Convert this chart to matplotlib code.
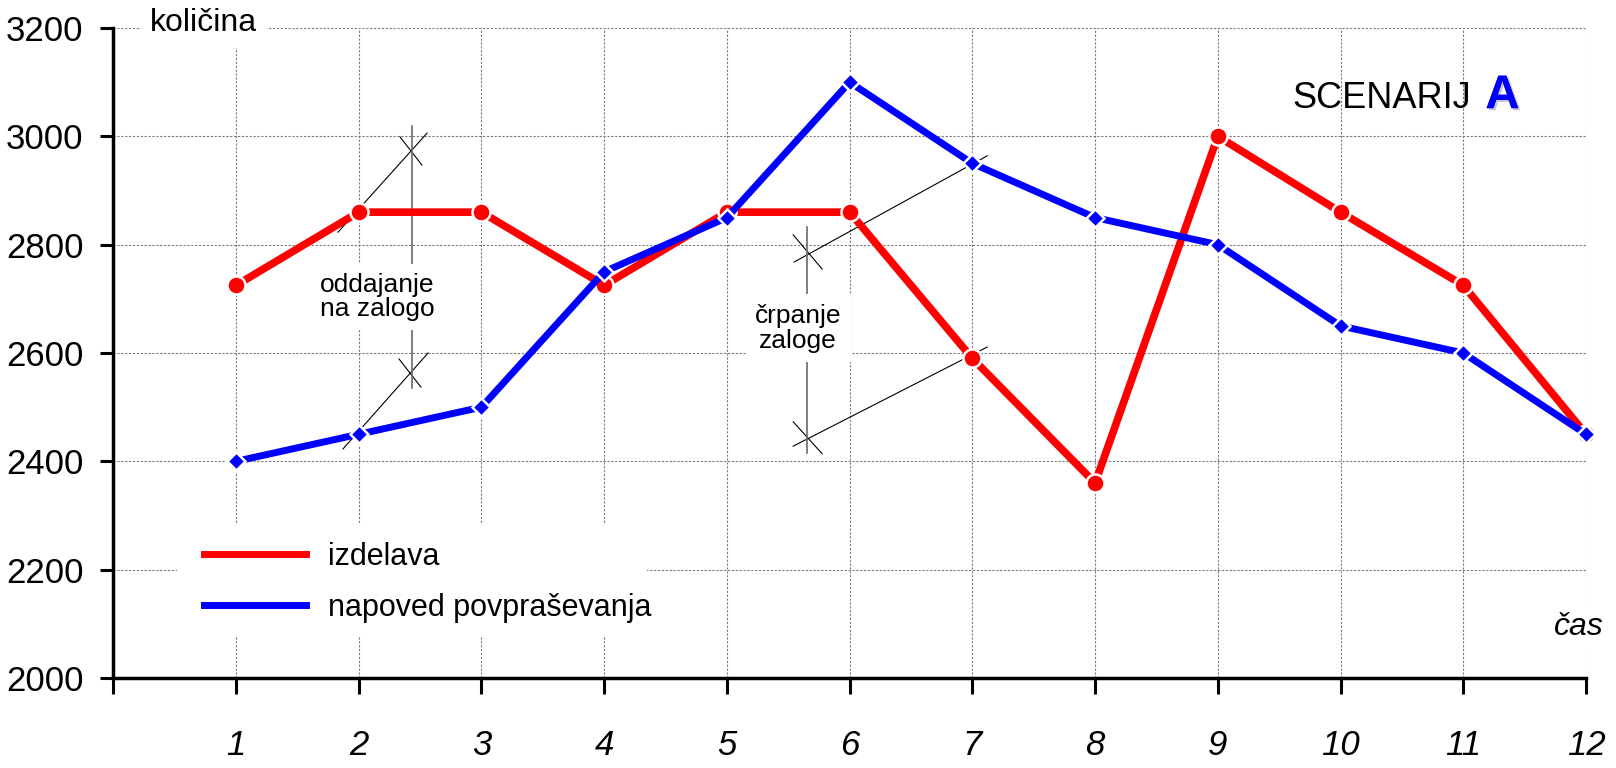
import matplotlib
matplotlib.use("Agg")
import matplotlib.pyplot as plt
from matplotlib import font_manager
from matplotlib.lines import Line2D
from matplotlib.patches import Rectangle
import matplotlib.patheffects as pe

# podatki
cas = [1, 2, 3, 4, 5, 6, 7, 8, 9, 10, 11, 12]
izdelava = [2725, 2860, 2860, 2725, 2860, 2860, 2590, 2360, 3000, 2860, 2725, 2450]
napoved = [2400, 2450, 2500, 2750, 2850, 3100, 2950, 2850, 2800, 2650, 2600, 2450]
y_ticks = [2000, 2200, 2400, 2600, 2800, 3000, 3200]
x_ticks = list(range(0, 13))
x_labels = [""] + [str(i) for i in cas]

# kotirne crte (oddajanje / crpanje zaloge)
kote = [
    # podaljski
    ((1.831, 2.557), (2823, 3006)),
    ((1.872, 2.565), (2423, 2600)),
    ((5.548, 7.121), (2768, 2964)),
    ((5.540, 7.121), (2428, 2611)),
    # krizci
    ((2.336, 2.515), (2999, 2947)),
    ((2.328, 2.507), (2589, 2537)),
    ((5.540, 5.776), (2818, 2755)),
    ((5.540, 5.776), (2473, 2414)),
]
kote_navpicne = [((2.43, 2.43), (3020, 2535)), ((5.654, 5.654), (2833, 2415))]

# pisave
imena = {f.name for f in font_manager.fontManager.ttflist}
if "Liberation Sans Narrow" in imena:
    OZKA, VEL = "Liberation Sans Narrow", 27
else:
    OZKA, VEL = "Liberation Sans", 25
SIROKA = "Liberation Sans"

fig = plt.figure(figsize=(16.16, 7.68), dpi=100)
ax = fig.add_axes([113.3 / 1616, 1 - 678 / 768, (1586 - 113.3) / 1616, (678 - 28) / 768])

ax.set_xlim(0, 12)
ax.set_ylim(2000, 3200)
ax.set_axisbelow(True)

# mreza
ax.set_xticks(x_ticks)
ax.set_yticks(y_ticks)
ax.grid(True, color="#7a7a7a", lw=0.8, linestyle=(0, (2, 1.5)))

for s in ["top", "right"]:
    ax.spines[s].set_visible(False)
for s in ["left", "bottom"]:
    ax.spines[s].set_linewidth(2.5)

ax.tick_params(axis="y", direction="out", length=9.5, width=2.2, pad=12)
ax.tick_params(axis="x", direction="out", length=11.5, width=2.2, pad=25)
ax.set_xticklabels(x_labels, family=OZKA, style="italic", fontsize=VEL)
ax.set_yticklabels([str(v) for v in y_ticks], family=OZKA, fontsize=VEL)

# kotirne crte
for xs, ys in kote:
    ax.plot(xs, ys, color="black", lw=0.8, zorder=2)
for xs, ys in kote_navpicne:
    ax.plot(xs, ys, color="#6a6a6a", lw=1.2, zorder=2)

# serije
ax.plot(cas, izdelava, color="#ff0000", lw=5.5, marker="o", ms=13,
        mfc="#ff0000", mec="white", mew=1.8, zorder=3, solid_capstyle="butt", clip_on=False)
ax.plot(cas, napoved, color="#0000ff", lw=5, marker="D", ms=9.5,
        mfc="#0000ff", mec="white", mew=1.8, zorder=4, solid_capstyle="butt", clip_on=False)

bel = dict(facecolor="white", edgecolor="none", boxstyle="square,pad=0.35")

ax.text(2.15, 2703, "oddajanje\nna zalogo", family=SIROKA, fontsize=19,
        ha="center", va="center", linespacing=1.0, bbox=bel, zorder=5)
ax.text(5.58, 2646, "črpanje\nzaloge", family=SIROKA, fontsize=19,
        ha="center", va="center", linespacing=1.05, bbox=bel, zorder=5)

ax.text(0.3, 3209, "količina", family=OZKA, fontsize=23, ha="left", va="center",
        bbox=dict(facecolor="white", edgecolor="none", boxstyle="square,pad=0.3"),
        clip_on=False, zorder=5)
ax.text(11.94, 2094, "čas", family=OZKA, style="italic", fontsize=23,
        ha="center", va="center",
        bbox=dict(facecolor="white", edgecolor="none", boxstyle="square,pad=0.25"),
        clip_on=False, zorder=5)

ax.text(9.606, 3052, "SCENARIJ", family=SIROKA, fontsize=26, ha="left", va="baseline", zorder=5)
ax.text(11.18, 3052, "A", family=SIROKA, fontsize=34, weight="bold", color="#0000ff",
        ha="left", va="baseline", zorder=5,
        path_effects=[pe.withSimplePatchShadow(offset=(1.5, -1.5), shadow_rgbFace="#9090a0", alpha=0.5),
                      pe.Normal()])

# bela podlaga legende
ax.add_patch(Rectangle((177 / 1616, 1 - 637 / 768), (647 - 177) / 1616, (637 - 523) / 768,
                       transform=fig.transFigure, facecolor="white", edgecolor="none",
                       zorder=1, clip_on=False))

# legenda
roke = [Line2D([], [], color="#ff0000", lw=5), Line2D([], [], color="#0000ff", lw=5)]
leg = ax.legend(roke, ["izdelava", "napoved povpraševanja"], loc="upper left",
                bbox_to_anchor=(204 / 1616, 1 - 542 / 768), bbox_transform=fig.transFigure,
                borderaxespad=0, borderpad=0, handlelength=3.35, handletextpad=0.72,
                labelspacing=0.68, frameon=False,
                prop={"family": OZKA, "size": 22})

fig.savefig("out.png", dpi=100)
